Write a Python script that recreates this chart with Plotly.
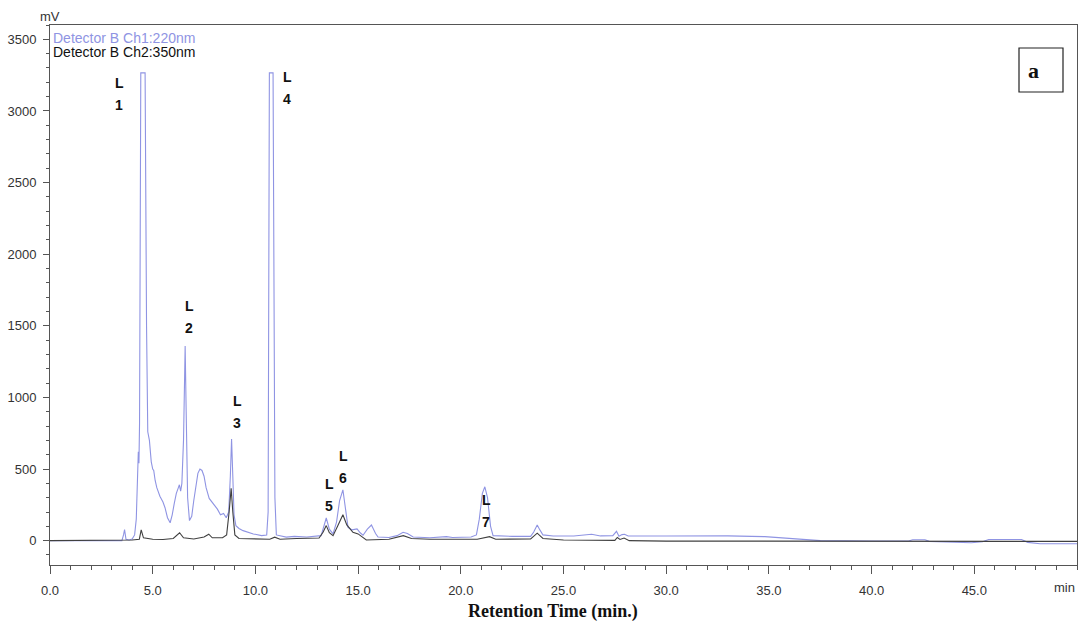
import plotly.graph_objects as go

# ---- data ----
ch1_time = [0.0, 3.5, 3.58, 3.63, 3.7, 3.85, 4.0, 4.12, 4.2, 4.26, 4.3, 4.33, 4.36, 4.42, 4.63, 4.7, 4.76, 4.84,
            4.93, 5.0, 5.05, 5.12, 5.2, 5.35, 5.5, 5.6, 5.72, 5.85, 5.95, 6.05, 6.15, 6.25, 6.3, 6.36,
            6.42, 6.5, 6.58, 6.63, 6.7, 6.79, 6.9, 7.0, 7.1, 7.2, 7.3, 7.4, 7.5, 7.6, 7.75, 7.95,
            8.15, 8.3, 8.45, 8.58, 8.7, 8.78, 8.84, 8.9, 8.96, 9.05, 9.2, 9.4, 9.9, 10.3, 10.55,
            10.62, 10.68, 10.86, 10.95, 11.02, 11.5, 11.9, 12.5, 13.2, 13.3, 13.45, 13.6, 13.78,
            13.95, 14.1, 14.26, 14.4, 14.51, 14.7, 14.95, 15.1, 15.24, 15.45, 15.65, 15.85, 15.97,
            16.5, 16.9, 17.19, 17.4, 17.68, 18.5, 19.3, 19.6, 20.5, 20.76, 20.9, 21.05, 21.17, 21.3,
            21.45, 21.57, 22.5, 23.4, 23.55, 23.72, 23.85, 24.0, 24.5, 25.5, 26.37, 26.8, 27.4,
            27.58, 27.7, 27.85, 27.97, 28.15, 30.0, 33.0, 34.8, 35.6, 36.6, 37.5, 40.0, 41.8, 42.0,
            42.6, 42.8, 44.0, 44.85, 45.4, 45.7, 47.3, 47.6, 48.2, 50.0]
ch1_mv = [0, 0, 40, 77, 10, 5, 12, 40, 150, 400, 620, 540, 820, 3266, 3266, 1500, 760, 700,
          550, 500, 490, 420, 370, 310, 270, 230, 160, 125, 180, 260, 330, 370, 390, 345,
          400, 700, 1359, 900, 300, 140, 170, 280, 380, 470, 500, 490, 450, 370, 295, 260,
          220, 180, 190, 160, 200, 450, 709, 450, 180, 105, 85, 70, 47, 35, 40,
          200, 3266, 3266, 300, 40, 25, 30, 25, 35, 80, 158, 80, 47,
          130, 280, 355, 220, 93, 75, 82, 55, 38, 80, 109, 50, 25,
          22, 35, 58, 50, 25, 20, 28, 22, 25, 40, 150, 330, 376, 300,
          100, 35, 30, 30, 60, 109, 75, 40, 32, 32, 45, 33, 35,
          65, 30, 42, 45, 32, 32, 33, 28, 19, 8, 0, -2, -2, 6,
          6, -5, -12, -15, -8, 8, 8, -12, -22, -22]

ch2_time = [0.0, 3.5, 4.0, 4.35, 4.44, 4.55, 5.0, 5.5, 6.0, 6.31, 6.5, 7.0, 7.5, 7.73, 7.9, 8.4,
            8.6, 8.72, 8.82, 8.9, 9.0, 9.2, 10.0, 10.7, 10.94, 11.2, 12.0, 13.1, 13.3, 13.45, 13.6,
            13.78, 14.0, 14.26, 14.45, 14.75, 15.0, 15.4, 16.5, 17.0, 17.2, 17.6, 18.5, 20.8, 21.4,
            21.7, 23.4, 23.72, 24.0, 25.0, 26.5, 27.5, 27.62, 27.75, 27.95, 28.2, 30.0, 50.0]
ch2_mv = [0, 0, 5, 10, 75, 20, 10, 8, 15, 55, 20, 12, 25, 45, 20, 20,
          40, 200, 365, 200, 40, 15, 10, 10, 24, 10, 15, 18, 60, 105, 55,
          35, 100, 181, 110, 58, 47, 5, 10, 25, 35, 15, 10, 10, 28,
          10, 12, 52, 15, 5, 2, 2, 22, 8, 18, 0, -3, -5]

series_names = ["Detector B Ch1:220nm", "Detector B Ch2:350nm"]

peak_labels = ["1", "2", "3", "4", "5", "6", "7"]
peak_label_time = [3.37, 6.78, 9.12, 11.55, 13.6, 14.28, 21.23]
peak_label_mv = [3118, 1558, 895, 3158, 319, 514, 205]

x_tickvals = [0, 5, 10, 15, 20, 25, 30, 35, 40, 45]
x_ticktext = ["0.0", "5.0", "10.0", "15.0", "20.0", "25.0", "30.0", "35.0", "40.0", "45.0"]

BLUE = "#8f94e3"
DARK = "#404040"
AX = "#555555"

fig = go.Figure()
fig.add_trace(go.Scatter(x=ch1_time, y=ch1_mv, mode="lines", name=series_names[0],
                         line=dict(color=BLUE, width=1.1), showlegend=False))
fig.add_trace(go.Scatter(x=ch2_time, y=ch2_mv, mode="lines", name=series_names[1],
                         line=dict(color=DARK, width=1.1), showlegend=False))

for lab, t, v in zip(peak_labels, peak_label_time, peak_label_mv):
    fig.add_annotation(x=t, y=v, text="<b>L</b>", showarrow=False, yshift=11,
                       font=dict(family="Liberation Sans, Arial", size=14, color="#111"))
    fig.add_annotation(x=t, y=v, text="<b>" + lab + "</b>", showarrow=False, yshift=-11,
                       font=dict(family="Liberation Sans, Arial", size=14, color="#111"))

fig.update_layout(
    width=1088, height=640,
    margin=dict(l=50, r=11, t=25, b=75, autoexpand=False),
    paper_bgcolor="white", plot_bgcolor="white",
    font=dict(family="Liberation Sans, Arial", size=13, color="#333"),
    xaxis=dict(range=[0, 50], tickvals=x_tickvals, ticktext=x_ticktext,
               ticks="outside", ticklen=8, tickcolor=AX, tickwidth=1,
               minor=dict(dtick=1, ticks="outside", ticklen=4, tickcolor=AX),
               showline=True, linecolor=AX, linewidth=1, mirror=True,
               showgrid=False, zeroline=False, ticklabelstandoff=5, automargin=False),
    yaxis=dict(range=[-170, 3600], dtick=500, tick0=0,
               ticks="outside", ticklen=6, tickcolor=AX, tickwidth=1,
               minor=dict(dtick=100, ticks="outside", ticklen=3, tickcolor=AX),
               showline=True, linecolor=AX, linewidth=1, mirror=True,
               showgrid=False, zeroline=False, ticklabelstandoff=4, automargin=False),
)

# axis unit labels
fig.add_annotation(xref="paper", yref="paper", x=-0.012, y=1.0, yanchor="bottom", yshift=-1,
                   text="mV", showarrow=False, font=dict(size=13, color="#333"))
fig.add_annotation(xref="x", yref="paper", x=50, y=0, xanchor="right", yanchor="top",
                   yshift=-13, text="min", showarrow=False, font=dict(size=13, color="#333"))

# channel captions
fig.add_annotation(xref="paper", yref="paper", x=0.001, y=1.0, xanchor="left", yanchor="top",
                   yshift=-3, text=series_names[0], showarrow=False,
                   font=dict(size=14, color=BLUE))
fig.add_annotation(xref="paper", yref="paper", x=0.001, y=1.0, xanchor="left", yanchor="top",
                   yshift=-17, text=series_names[1], showarrow=False,
                   font=dict(size=14, color="#111"))

# panel tag
fig.add_shape(type="rect", xref="paper", yref="paper",
              x0=(1019 - 50) / 1027, x1=(1063 - 50) / 1027,
              y0=(565 - 92) / 540, y1=(565 - 48) / 540,
              line=dict(color="#222", width=1.2), fillcolor="white")
fig.add_annotation(xref="paper", yref="paper", x=(1041 - 50) / 1027, y=(565 - 70) / 540,
                   yanchor="middle", text="<b>a</b>", showarrow=False,
                   font=dict(family="Liberation Serif, Times New Roman", size=22, color="#111"))

# x axis title
fig.add_annotation(xref="paper", yref="paper", x=(553 - 50) / 1027, y=(565 - 624) / 540,
                   text="<b>Retention Time (min.)</b>", showarrow=False,
                   font=dict(family="Liberation Serif, Times New Roman", size=18, color="#111"))

fig.write_html("out.html", config={"displayModeBar": False},
               post_script="document.body.style.margin='0';document.body.style.overflow='hidden';")
